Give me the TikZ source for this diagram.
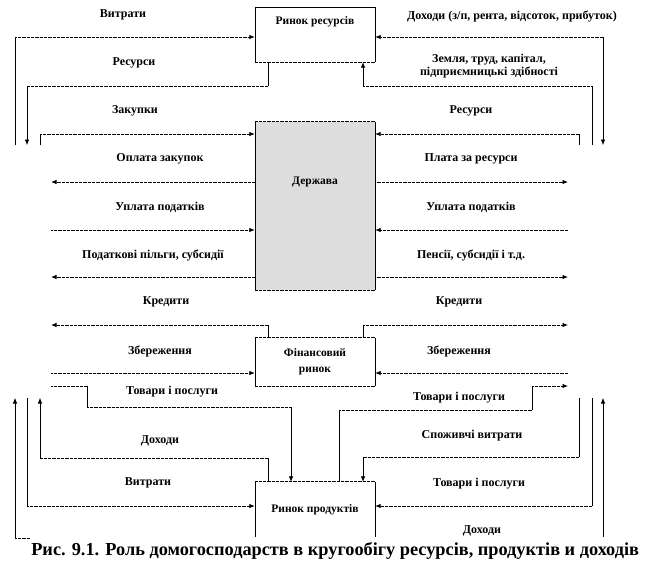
\documentclass[tikz,border=0pt]{standalone}
\usepackage{fontspec}
\setmainfont{Liberation Serif}
\usetikzlibrary{arrows.meta,calc}
\begin{document}
\begin{tikzpicture}[x=1pt,y=-1pt,
  vl/.style={line width=0.6pt},
  hl/.style={line width=0.8pt,dash pattern=on 0.7pt off 0.6pt},
  tip/.style={-{Latex[length=5.5pt,width=4.5pt]}},
  lbl/.style={font=\bfseries\fontsize{12}{13}\selectfont, inner sep=0pt, align=center},
  box/.style={minimum width=120pt, inner sep=0pt, align=center, font=\bfseries\fontsize{11.5}{16}\selectfont}]
\useasboundingbox (0,0) rectangle (653,574);
% boxes
\node[box, minimum height=55pt, label={[lbl,font=\bfseries\fontsize{11.5}{13}\selectfont,anchor=center,yshift=-15pt]north:Ринок ресурсів}] (rr) at (315,34.5) {};
\node[box, minimum height=168pt, fill=gray!27, label={[lbl,font=\bfseries\fontsize{11.5}{13}\selectfont,anchor=center,yshift=-60pt]north:Держава}] (dz) at (315,206) {};
\node[box, minimum height=48pt] (fr) at (315,362) {Фінансовий\\ринок};
\node[box, minimum height=55pt] (rp) at (315,509.5) {Ринок продуктів};
% borders
\foreach \b in {rr,dz,fr,rp}{
  \draw[vl] (\b.north west)--(\b.south west) (\b.north east)--(\b.south east);
}
\draw[vl] (rr.north west)--(rr.north east);
\foreach \b in {rr,dz,fr}{ \draw[hl] (\b.south west)--(\b.south east); }
\foreach \b in {dz,fr,rp}{ \draw[hl] (\b.north west)--(\b.north east); }
% free ends (household side)
\coordinate (tl1) at (15,145);  \coordinate (tl2) at (27,145);  \coordinate (tl3) at (40,145);
\coordinate (tr1) at (579,145); \coordinate (tr2) at (592,145); \coordinate (tr3) at (603,145);
\coordinate (bl1) at (15,398);  \coordinate (bl2) at (27,398);  \coordinate (bl3) at (40,398);
\coordinate (br1) at (579,398); \coordinate (br2) at (592,398); \coordinate (br3) at (603,398);
\coordinate (ml) at (51,0); \coordinate (mr) at (568,0);
% top-left
\draw[vl] (tl1) -- (15,37);
\draw[hl,tip] (15,37) -- (rr.west |- 0,37);
\draw[vl] (268,0 |- rr.south) -- (268,86);
\draw[hl] (268,86) -- (27,86);
\draw[vl,tip] (27,86) -- (tl2);
\draw[vl] (tl3) -- (40,134);
\draw[hl,tip] (40,134) -- (dz.west |- 0,134);
% top-right
\draw[hl,tip] (603,37) -- (rr.east |- 0,37);
\draw[vl,tip] (603,37) -- (tr3);
\draw[vl,tip] (363,86) -- (363,0 |- rr.south);
\draw[hl] (363,86) -- (592,86);
\draw[vl] (592,86) -- (tr2);
\draw[hl,tip] (579,134) -- (dz.east |- 0,134);
\draw[vl] (579,134) -- (tr1);
% government
\draw[hl,tip] (dz.west |- 0,182) -- (ml |- 0,182);
\draw[hl,tip] (ml |- 0,230) -- (dz.west |- 0,230);
\draw[hl,tip] (dz.west |- 0,277) -- (ml |- 0,277);
\draw[hl,tip] (dz.east |- 0,182) -- (mr |- 0,182);
\draw[hl,tip] (mr |- 0,230) -- (dz.east |- 0,230);
\draw[hl,tip] (dz.east |- 0,277) -- (mr |- 0,277);
% financial market
\draw[vl] (268,0 |- fr.north) -- (268,325);
\draw[hl,tip] (268,325) -- (ml |- 0,325);
\draw[hl,tip] (ml |- 0,373) -- (fr.west |- 0,373);
\draw[vl] (363,0 |- fr.north) -- (363,325);
\draw[hl,tip] (363,325) -- (mr |- 0,325);
\draw[hl,tip] (mr |- 0,373) -- (fr.east |- 0,373);
% goods, left
\draw[hl] (ml |- 0,386) -- (87,386);
\draw[vl] (87,386) -- (87,407);
\draw[hl] (87,407) -- (291,407);
\draw[vl,tip] (291,407) -- (291,0 |- rp.north);
% goods, right
\draw[vl] (339,0 |- rp.north) -- (339,410);
\draw[hl] (339,410) -- (532,410);
\draw[vl] (532,410) -- (532,386);
\draw[hl,tip] (532,386) -- (mr |- 0,386);
% product market, left
\draw[vl] (268,0 |- rp.north) -- (268,458);
\draw[hl] (268,458) -- (40,458);
\draw[vl,tip] (40,458) -- (bl3);
\draw[vl] (bl2) -- (27,506);
\draw[hl,tip] (27,506) -- (rp.west |- 0,506);
\draw[vl,tip] (15,538) -- (bl1);
% product market, right
\draw[vl] (br1) -- (579,457);
\draw[hl] (579,457) -- (363,457);
\draw[vl,tip] (363,457) -- (363,0 |- rp.north);
\draw[vl] (br2) -- (592,506);
\draw[hl,tip] (592,506) -- (rp.east |- 0,506);
\draw[vl,tip] (603,538) -- (br3);
\draw[hl] (15,538) -- (603,538);
% labels
\node[lbl] (l1) at (123,15) {Витрати};
\node[lbl] (l2) at (134,63) {Ресурси};
\node[lbl] (l3) at (135,111) {Закупки};
\node[lbl] (l4) at (512,16) {Доходи (з/п, рента, відсоток, прибуток)};
\node[lbl] (l5) at (489,66) {Земля, труд, капітал,\\підприємницькі здібності};
\node[lbl] (l6) at (471,111) {Ресурси};
\node[lbl] (l7) at (160,159) {Оплата закупок};
\node[lbl] (l8) at (160,207) {Уплата податків};
\node[lbl] (l9) at (153,255) {Податкові пільги, субсидії};
\node[lbl] (l10) at (471,159) {Плата за ресурси};
\node[lbl] (l11) at (471,207) {Уплата податків};
\node[lbl] (l12) at (471,255) {Пенсії, субсидії і т.д.};
\node[lbl] (l13) at (166,302) {Кредити};
\node[lbl] (l14) at (160,351) {Збереження};
\node[lbl] (l15) at (459,302) {Кредити};
\node[lbl] (l16) at (459,351) {Збереження};
\node[lbl] (l17) at (172,392) {Товари і послуги};
\node[lbl] (l18) at (459,398) {Товари і послуги};
\node[lbl] (l19) at (160,441) {Доходи};
\node[lbl] (l20) at (148,483) {Витрати};
\node[lbl] (l21) at (472,436) {Споживчі витрати};
\node[lbl] (l22) at (479,484) {Товари і послуги};
\node[lbl] (l23) at (482,531) {Доходи};
% caption
\node[fill=white, inner sep=0pt, minimum height=28pt, minimum width=608pt, anchor=north west,
      font=\bfseries\fontsize{18.3}{20}\selectfont] (cap) at (31,537)
      {Рис. 9.1. Роль домогосподарств в кругообігу ресурсів, продуктів и доходів};
\end{tikzpicture}
\end{document}
